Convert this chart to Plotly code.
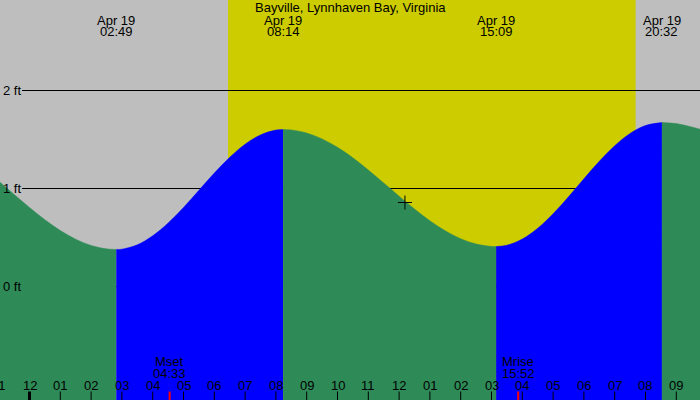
import plotly.graph_objects as go

# ---------------- data ----------------
TITLE = "Bayville, Lynnhaven Bay, Virginia"

# time in hours from midnight Apr 19; height in ft
TIDE_T = [-1.0, -0.5, 0.0, 0.5, 1.0, 1.5, 2.0, 2.5, 2.817,
          3.0, 3.5, 4.0, 4.5, 5.0, 5.5, 6.0, 6.5, 7.0, 7.5, 8.0, 8.233,
          8.5, 9.0, 9.5, 10.0, 10.5, 11.0, 11.5, 12.0, 12.5, 13.0, 13.5, 14.0, 14.5, 15.0, 15.15,
          15.5, 16.0, 16.5, 17.0, 17.5, 18.0, 18.5, 19.0, 19.5, 20.0, 20.533,
          21.0, 21.5, 22.0]
TIDE_H = [1.076, 0.940, 0.806, 0.681, 0.571, 0.482, 0.419, 0.384, 0.378,
          0.381, 0.425, 0.517, 0.647, 0.806, 0.981, 1.157, 1.318, 1.452, 1.547, 1.596, 1.602,
          1.598, 1.566, 1.506, 1.420, 1.313, 1.189, 1.057, 0.922, 0.791, 0.670, 0.568, 0.487, 0.434, 0.409, 0.408,
          0.421, 0.484, 0.594, 0.742, 0.915, 1.099, 1.277, 1.436, 1.562, 1.643, 1.673,
          1.662, 1.628, 1.585]

EVENT_T = [2.817, 8.233, 15.15, 20.533]
EVENT_DATE = ["Apr 19", "Apr 19", "Apr 19", "Apr 19"]
EVENT_LABEL = ["02:49", "08:14", "15:09", "20:32"]

SUNRISE = 6.445
SUNSET = 19.68

MOON_T = [4.55, 15.867]
MOON_NAME = ["Mset", "Mrise"]
MOON_LABEL = ["04:33", "15:52"]

HOUR_T = list(range(-1, 22))
HOUR_LABEL = ["11", "12", "01", "02", "03", "04", "05", "06", "07", "08", "09", "10",
              "11", "12", "01", "02", "03", "04", "05", "06", "07", "08", "09"]

LEVELS = [2, 1, 0]
LEVEL_LABEL = ["2 ft", "1 ft", "0 ft"]

NOW_T = 12.19
NOW_H = 0.857

# ---------------- styling / layout ----------------
W, H = 700, 400
X0_PX, PX_PER_H = 29.5, 30.8
Y0_PX, PX_PER_FT = 286.5, 98.0
X_MIN = -X0_PX / PX_PER_H
X_MAX = (W - X0_PX) / PX_PER_H
Y_MIN = (Y0_PX - H) / PX_PER_FT
Y_MAX = Y0_PX / PX_PER_FT

GRAY = "#BEBEBE"
YELLOW = "#CCCC00"
GREEN = "#2E8B57"
BLUE = "#0000FF"
FONT = "Liberation Sans"
FS = 13


def xpaper(t):
    return (t - X_MIN) / (X_MAX - X_MIN)


fig = go.Figure()

# tide fills split at extrema
bounds = [TIDE_T[0]] + EVENT_T + [TIDE_T[-1]]
for i in range(len(bounds) - 1):
    a, b = bounds[i], bounds[i + 1]
    ts = [t for t in TIDE_T if a <= t <= b]
    hs = [h for t, h in zip(TIDE_T, TIDE_H) if a <= t <= b]
    col = GREEN if i % 2 == 0 else BLUE
    fig.add_trace(go.Scatter(x=ts, y=[Y_MIN - 0.1] * len(ts), mode="lines",
                             line=dict(width=0, color=col), hoverinfo="skip", showlegend=False))
    fig.add_trace(go.Scatter(x=ts, y=hs, mode="lines", fill="tonexty", fillcolor=col,
                             line=dict(width=0.5, color=col, shape="spline", smoothing=1),
                             hoverinfo="skip", showlegend=False))

# current-time marker
fig.add_trace(go.Scatter(x=[NOW_T], y=[NOW_H], mode="markers",
                         marker=dict(symbol="cross-thin", size=10, line=dict(width=1, color="black")),
                         showlegend=False, hoverinfo="skip"))

shapes = []
# daylight
shapes.append(dict(type="rect", xref="x", yref="paper", x0=SUNRISE, x1=SUNSET, y0=0, y1=1,
                   fillcolor=YELLOW, line=dict(width=0), layer="below"))
# level lines
for lv in LEVELS:
    shapes.append(dict(type="line", xref="paper", yref="y", x0=22 / W, x1=1, y0=lv, y1=lv,
                       line=dict(color="black", width=1), layer="below"))
# hour ticks
for t, lab in zip(HOUR_T, HOUR_LABEL):
    thick = (t % 24 == 0)
    shapes.append(dict(type="line", xref="x", yref="paper", x0=t, x1=t, y0=0, y1=8.5 / H,
                       line=dict(color="black", width=3 if thick else 1)))
# moon ticks
for t in MOON_T:
    shapes.append(dict(type="line", xref="x", yref="paper", x0=t, x1=t, y0=0, y1=8.5 / H,
                       line=dict(color="red", width=2)))

ann = []
def txt(t, y, s):
    ann.append(dict(x=xpaper(t), y=y, xref="paper", yref="paper", text=s, showarrow=False,
                    xanchor="center", yanchor="middle",
                    font=dict(family=FONT, size=FS, color="black")))

ann.append(dict(x=0.5, y=1 - 7.5 / H, xref="paper", yref="paper", text=TITLE, showarrow=False,
                xanchor="center", yanchor="middle", font=dict(family=FONT, size=FS, color="black")))
for t, d, lab in zip(EVENT_T, EVENT_DATE, EVENT_LABEL):
    txt(t, 1 - 20 / H, d)
    txt(t, 1 - 31.5 / H, lab)
for t, lab in zip(HOUR_T, HOUR_LABEL):
    txt(t, (H - 385.5) / H, lab)
for t, n, lab in zip(MOON_T, MOON_NAME, MOON_LABEL):
    txt(t, (H - 361.5) / H, n)
    txt(t, (H - 373) / H, lab)
for lv, lab in zip(LEVELS, LEVEL_LABEL):
    ann.append(dict(x=1 / W, y=lv, xref="paper", yref="y", text=lab, showarrow=False,
                    xanchor="left", yanchor="middle",
                    font=dict(family=FONT, size=FS, color="black")))

fig.update_layout(
    width=W, height=H, autosize=False,
    margin=dict(l=0, r=0, t=0, b=0, pad=0),
    paper_bgcolor=GRAY, plot_bgcolor=GRAY,
    xaxis=dict(range=[X_MIN, X_MAX], visible=False, fixedrange=True),
    yaxis=dict(range=[Y_MIN, Y_MAX], visible=False, fixedrange=True),
    shapes=shapes, annotations=ann, showlegend=False,
)

fig.write_html("out.html", config={"displayModeBar": False})
